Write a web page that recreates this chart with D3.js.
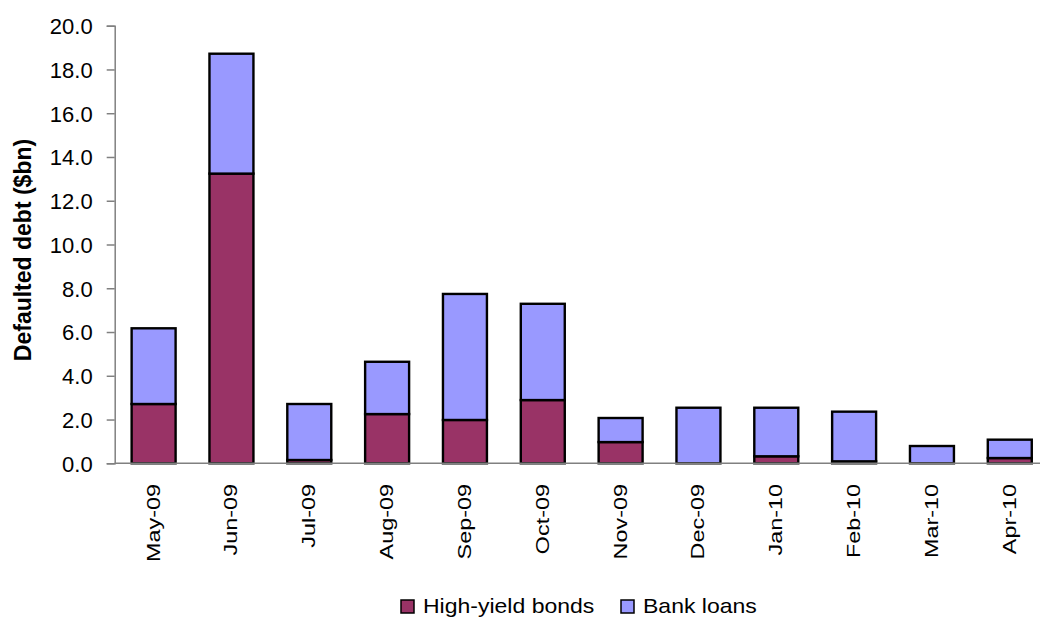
<!DOCTYPE html>
<html>
<head>
<meta charset="utf-8">
<script src="https://cdn.jsdelivr.net/npm/d3@7/dist/d3.min.js"></script>
<style>
  html, body { margin: 0; padding: 0; background: #fff; }
  svg { display: block; font-family: "Liberation Sans", Arial, sans-serif; }
</style>
</head>
<body>
<svg id="chart" width="1040" height="619"></svg>
<script>
// Meses y deuda en default (miles de millones de dólares)
const months = ["May-09", "Jun-09", "Jul-09", "Aug-09", "Sep-09", "Oct-09",
                "Nov-09", "Dec-09", "Jan-10", "Feb-10", "Mar-10", "Apr-10"];
const highYield = [2.71, 13.24, 0.15, 2.25, 1.98, 2.89, 0.97, 0.0, 0.32, 0.09, 0.0, 0.24];
const bankLoans = [3.46, 5.48, 2.56, 2.39, 5.76, 4.40, 1.10, 2.54, 2.22, 2.27, 0.79, 0.84];
const yTicks = [0, 2, 4, 6, 8, 10, 12, 14, 16, 18, 20];
const seriesNames = ["High-yield bonds", "Bank loans"];
const seriesColors = ["#993366", "#9999FF"];

const svg = d3.select("#chart");

// Área de trazado
const plotLeft = 114.7, plotRight = 1048.7, plotTop = 25.7, plotBottom = 463.3;

const x = d3.scaleBand()
  .domain(months)
  .range([plotLeft, plotRight])
  .paddingInner(0.435)
  .paddingOuter(0.2175);

const y = d3.scaleLinear()
  .domain([0, 20])
  .range([plotBottom, plotTop]);

// Datos apilados
const rows = months.map((m, i) => ({ month: m, hy: highYield[i], bank: bankLoans[i] }));
const stack = d3.stack().keys(["hy", "bank"]);
const layers = stack(rows);

const layer = svg.selectAll(".layer")
  .data(layers)
  .enter()
  .append("g")
  .attr("class", "layer")
  .style("fill", (d, i) => seriesColors[i]);

layer.selectAll("rect")
  .data(d => d.filter(p => p[1] - p[0] > 0))
  .enter()
  .append("rect")
  .attr("x", d => x(d.data.month))
  .attr("y", d => y(d[1]))
  .attr("width", x.bandwidth())
  .attr("height", d => y(d[0]) - y(d[1]))
  .style("stroke", "#000")
  .style("stroke-width", 2.4);

// Eje Y
const yAxis = svg.append("g")
  .attr("transform", `translate(${plotLeft},0)`)
  .call(d3.axisLeft(y).tickValues(yTicks).tickSize(8).tickPadding(14).tickFormat(d3.format(".1f")));

yAxis.select(".domain").attr("stroke", "#808080").attr("stroke-width", 1.5);
yAxis.selectAll(".tick line").attr("stroke", "#808080").attr("stroke-width", 1.5);
yAxis.selectAll(".tick text")
  .attr("dy", "0.36em")
  .style("font-size", "22px")
  .style("fill", "#000");

// Línea del eje X
svg.append("line")
  .attr("x1", plotLeft)
  .attr("x2", 1040)
  .attr("y1", plotBottom)
  .attr("y2", plotBottom)
  .style("stroke", "#808080")
  .style("stroke-width", 1.5);

// Etiquetas de meses (verticales)
svg.selectAll(".month")
  .data(months)
  .enter()
  .append("text")
  .attr("class", "month")
  .attr("transform", d => `translate(${x(d) + x.bandwidth() / 2 + 6},484) rotate(-90) scale(1.3,1)`)
  .attr("text-anchor", "end")
  .style("font-size", "18px")
  .style("fill", "#000")
  .text(d => d);

// Título del eje Y
svg.append("text")
  .attr("transform", "translate(31,250) rotate(-90)")
  .attr("text-anchor", "middle")
  .style("font-size", "23px")
  .style("font-weight", "bold")
  .style("fill", "#000")
  .text("Defaulted debt ($bn)");

// Leyenda
const legendX = [401, 621];
const legend = svg.selectAll(".legend")
  .data(seriesNames)
  .enter()
  .append("g")
  .attr("class", "legend")
  .attr("transform", (d, i) => `translate(${legendX[i]},600)`);

legend.append("rect")
  .attr("width", 13)
  .attr("height", 13)
  .style("fill", (d, i) => seriesColors[i])
  .style("stroke", "#000")
  .style("stroke-width", 1.5);

legend.append("text")
  .attr("transform", "translate(22,13) scale(1.15,1)")
  .style("font-size", "20px")
  .style("fill", "#000")
  .text(d => d);
</script>
</body>
</html>
